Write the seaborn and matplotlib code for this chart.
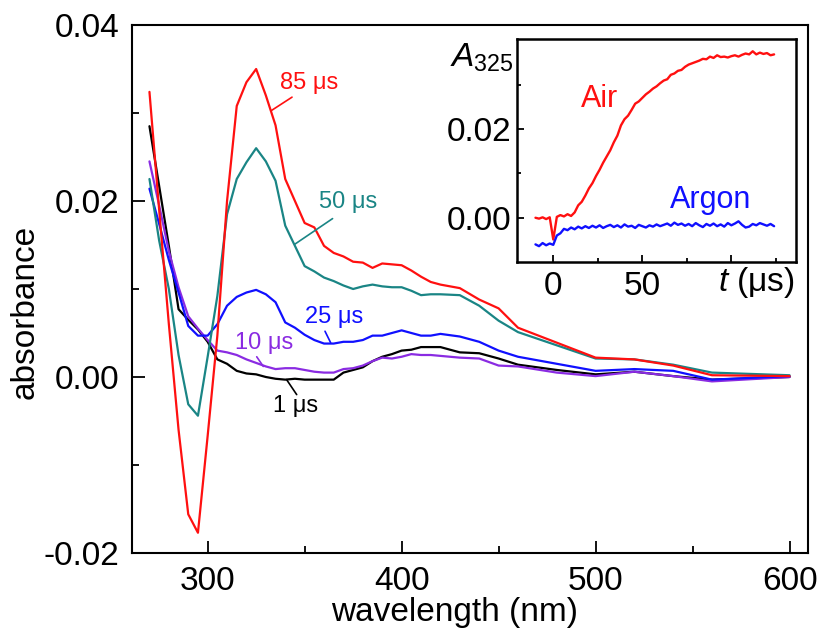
import numpy as np
import pandas as pd
import matplotlib
matplotlib.use("Agg")
import matplotlib.pyplot as plt
from matplotlib.ticker import FixedLocator, FuncFormatter
import seaborn as sns

# ---------------- data ----------------
wavelength = [270, 275, 280, 285, 290, 295, 300, 305, 310, 315, 320, 325, 330, 335, 340,
              345, 350, 355, 360, 365, 370, 375, 380, 385, 390, 395, 400, 405, 410, 415,
              420, 430, 440, 450, 460, 480, 500, 520, 540, 560, 600]

abs_85us = [0.0324, 0.0190, 0.0060, -0.0060, -0.0156, -0.0177, -0.0067, 0.0047, 0.0200, 0.0308,
            0.0335, 0.0350, 0.0320, 0.0286, 0.0225, 0.0200, 0.0175, 0.0170, 0.0149, 0.0141,
            0.0137, 0.0131, 0.0130, 0.0124, 0.0129, 0.0128, 0.0127, 0.0121, 0.0114, 0.0108,
            0.0105, 0.0101, 0.0088, 0.0078, 0.0056, 0.0039, 0.0022, 0.0020, 0.0013, 0.0002, 0.0001]

abs_50us = [0.0225, 0.0155, 0.0100, 0.0025, -0.0031, -0.0044, 0.0023, 0.0092, 0.0185, 0.0225,
            0.0244, 0.0260, 0.0245, 0.0223, 0.0172, 0.0149, 0.0126, 0.0120, 0.0113, 0.0109,
            0.0104, 0.0100, 0.0103, 0.0105, 0.0103, 0.0102, 0.0102, 0.0098, 0.0093, 0.0094,
            0.0094, 0.0093, 0.0081, 0.0064, 0.0051, 0.0036, 0.0021, 0.0020, 0.0014, 0.0005, 0.0002]

abs_25us = [0.0214, 0.0174, 0.0133, 0.0096, 0.0058, 0.0047, 0.0047, 0.0060, 0.0081, 0.0091,
            0.0096, 0.0099, 0.0094, 0.0085, 0.0062, 0.0056, 0.0048, 0.0042, 0.0038, 0.0038,
            0.0040, 0.0040, 0.0042, 0.0047, 0.0047, 0.0050, 0.0053, 0.0050, 0.0047, 0.0047,
            0.0049, 0.0046, 0.0040, 0.0030, 0.0023, 0.0015, 0.0007, 0.0009, 0.0007, -0.0003, 0.0001]

abs_10us = [0.0245, 0.0195, 0.0143, 0.0102, 0.0069, 0.0055, 0.0042, 0.0030, 0.0028, 0.0025,
            0.0020, 0.0016, 0.0012, 0.0009, 0.0010, 0.0010, 0.0008, 0.0006, 0.0005, 0.0005,
            0.0009, 0.0010, 0.0013, 0.0018, 0.0022, 0.0021, 0.0023, 0.0026, 0.0025, 0.0025,
            0.0024, 0.0022, 0.0021, 0.0013, 0.0012, 0.0005, 0.0001, 0.0006, 0.0001, -0.0005, 0.0000]

abs_1us = [0.0285, 0.0217, 0.0149, 0.0077, 0.0065, 0.0054, 0.0040, 0.0020, 0.0015, 0.0007,
           0.0004, 0.0003, 0.0000, -0.0002, -0.0003, -0.0002, -0.0003, -0.0003, -0.0003, -0.0003,
           0.0005, 0.0008, 0.0011, 0.0018, 0.0023, 0.0026, 0.0030, 0.0031, 0.0034, 0.0034,
           0.0034, 0.0028, 0.0027, 0.0021, 0.0014, 0.0008, 0.0003, 0.0006, 0.0001, -0.0003, 0.0000]

series_names = ["1 μs", "10 μs", "25 μs", "50 μs", "85 μs"]
series_colors = ["#000000", "#8a2be2", "#1010ff", "#1a8585", "#ff1010"]

# inset kinetic traces at 325 nm
time_us = list(range(-10, 125, 2))
a325_air = [0.0000, -0.0002, 0.0001, -0.0003, 0.0001, -0.0049, 0.0002, 0.0006, 0.0003, 0.0008,
            0.0004, 0.0012, 0.0028, 0.0036, 0.0050, 0.0066, 0.0078, 0.0094, 0.0108, 0.0124,
            0.0138, 0.0152, 0.0170, 0.0185, 0.0208, 0.0222, 0.0230, 0.0243, 0.0257, 0.0262,
            0.0270, 0.0278, 0.0284, 0.0291, 0.0296, 0.0303, 0.0309, 0.0312, 0.0322, 0.0325,
            0.0331, 0.0333, 0.0340, 0.0345, 0.0348, 0.0351, 0.0354, 0.0358, 0.0357, 0.0363,
            0.0360, 0.0366, 0.0362, 0.0363, 0.0361, 0.0364, 0.0366, 0.0363, 0.0367, 0.0370,
            0.0368, 0.0375, 0.0368, 0.0372, 0.0369, 0.0371, 0.0366, 0.0368]
a325_argon = [-0.0060, -0.0064, -0.0057, -0.0062, -0.0058, -0.0061, -0.0040, -0.0035, -0.0025, -0.0028,
              -0.0022, -0.0026, -0.0020, -0.0024, -0.0019, -0.0023, -0.0018, -0.0022, -0.0017, -0.0023,
              -0.0019, -0.0016, -0.0021, -0.0017, -0.0022, -0.0015, -0.0020, -0.0018, -0.0023, -0.0016,
              -0.0019, -0.0022, -0.0017, -0.0020, -0.0015, -0.0019, -0.0016, -0.0013, -0.0018, -0.0011,
              -0.0016, -0.0013, -0.0018, -0.0014, -0.0019, -0.0012, -0.0017, -0.0021, -0.0014, -0.0018,
              -0.0013, -0.0019, -0.0015, -0.0020, -0.0012, -0.0017, -0.0013, -0.0008, -0.0016, -0.0022,
              -0.0020, -0.0014, -0.0017, -0.0012, -0.0015, -0.0018, -0.0014, -0.0019]

# ---------------- style ----------------
sns.set_theme(style="ticks")
plt.rcParams["font.family"] = ["Liberation Sans", "DejaVu Sans"]
plt.rcParams["mathtext.fontset"] = "custom"
plt.rcParams["mathtext.rm"] = "Liberation Sans"
plt.rcParams["mathtext.it"] = "Liberation Sans:italic"
plt.rcParams["axes.unicode_minus"] = False
plt.rcParams["axes.edgecolor"] = "black"
plt.rcParams["axes.labelcolor"] = "black"
plt.rcParams["text.color"] = "black"
plt.rcParams["xtick.color"] = "black"
plt.rcParams["ytick.color"] = "black"

fig = plt.figure(figsize=(8.19, 6.33), dpi=100)
W, H = 819, 633

def fig_rect(l, t, r, b):
    return [l / W, 1 - b / H, (r - l) / W, (b - t) / H]

ax = fig.add_axes(fig_rect(132, 25, 808, 553))

df = pd.DataFrame({
    "wavelength": wavelength * 5,
    "absorbance": abs_1us + abs_10us + abs_25us + abs_50us + abs_85us,
    "delay": sum([[n] * len(wavelength) for n in series_names], []),
})
sns.lineplot(data=df, x="wavelength", y="absorbance", hue="delay",
             hue_order=series_names, palette=series_colors, estimator=None,
             linewidth=1.6, legend=False, ax=ax)

ax.set_xlim(261, 609.5)
ax.set_ylim(-0.02, 0.04)
ax.xaxis.set_major_locator(FixedLocator([300, 400, 500, 600]))
ax.xaxis.set_minor_locator(FixedLocator([350, 450, 550]))
ax.yaxis.set_major_locator(FixedLocator([-0.02, 0.0, 0.02, 0.04]))
ax.yaxis.set_minor_locator(FixedLocator([-0.01, 0.01, 0.03]))
ax.yaxis.set_major_formatter(FuncFormatter(lambda v, p: f"{v:.2f}"))
ax.tick_params(which="both", direction="in", width=1.3, labelsize=24, colors="black")
ax.tick_params(which="major", length=9, pad=9)
ax.tick_params(which="minor", length=5)
for s in ax.spines.values():
    s.set_linewidth(1.5)
    s.set_visible(True)
ax.set_xlabel("")
ax.set_ylabel("")
fig.text(455 / W, 1 - 612 / H, "wavelength (nm)", fontsize=24, ha="center", va="center")
fig.text(25 / W, 1 - 312 / H, "absorbance", fontsize=24, ha="center", va="center", rotation=90)

# series labels with leader lines (layout positions in data coords)
labels = [
    ("85 μs", "#ff1010", (352.2, 0.0334), ((343.5, 0.0318), (333.0, 0.0303))),
    ("50 μs", "#1a8585", (372.5, 0.0199), ((364.4, 0.0180), (345.0, 0.0151))),
    ("25 μs", "#1010ff", (365.0, 0.0068), ((360.5, 0.0052), (363.4, 0.0039))),
    ("10 μs", "#8a2be2", (329.1, 0.0039), ((325.3, 0.0023), (328.7, 0.0012))),
    ("1 μs", "#000000", (345.4, -0.0033), ((345.9, -0.0020), (340.7, -0.0003))),
]
for txt, col, pos, (p0, p1) in labels:
    ax.text(pos[0], pos[1], txt, color=col, fontsize=17, ha="center", va="center")
    ax.annotate("", xy=p1, xytext=p0,
                arrowprops=dict(arrowstyle="-", color=col, lw=1.2, shrinkA=0, shrinkB=0))

# ---------------- inset ----------------
ax2 = fig.add_axes(fig_rect(517.3, 39.3, 796, 261.7))
ax2.set_facecolor("white")
sns.lineplot(x=time_us, y=a325_air, color="#ff1010", linewidth=1.7, ax=ax2)
sns.lineplot(x=time_us, y=a325_argon, color="#1010ff", linewidth=1.7, ax=ax2)
ax2.set_xlim(-20.2, 136.3)
ax2.set_ylim(-0.0099, 0.0402)
ax2.xaxis.set_major_locator(FixedLocator([0, 50, 100]))
ax2.xaxis.set_minor_locator(FixedLocator([25, 75, 125]))
ax2.xaxis.set_major_formatter(FuncFormatter(lambda v, p: "" if v > 60 else f"{v:.0f}"))
ax2.yaxis.set_major_locator(FixedLocator([0.0, 0.02]))
ax2.yaxis.set_minor_locator(FixedLocator([0.01, 0.03]))
ax2.yaxis.set_major_formatter(FuncFormatter(lambda v, p: f"{v:.2f}"))
ax2.tick_params(which="both", direction="in", width=1.3, labelsize=24, colors="black")
ax2.tick_params(which="major", length=5)
ax2.tick_params(which="minor", length=3)
ax2.tick_params(axis="y", which="major", pad=4)
ax2.tick_params(axis="x", which="major", pad=7)
for s in ax2.spines.values():
    s.set_linewidth(1.8)
    s.set_visible(True)
ax2.set_xlabel("")
ax2.set_ylabel("")
fig.text(600 / W, 1 - 99 / H, "Air", color="#ff1010", fontsize=22, ha="center", va="center")
fig.text(711 / W, 1 - 200 / H, "Argon", color="#1010ff", fontsize=22, ha="center", va="center")
fig.text(795 / W, 1 - 283 / H, r"$t$ (μs)", fontsize=24, ha="right", va="center")
fig.text(450 / W, 1 - 67 / H, r"$A_{325}$", fontsize=24, ha="left", va="baseline")

fig.savefig("out.png", dpi=100)
